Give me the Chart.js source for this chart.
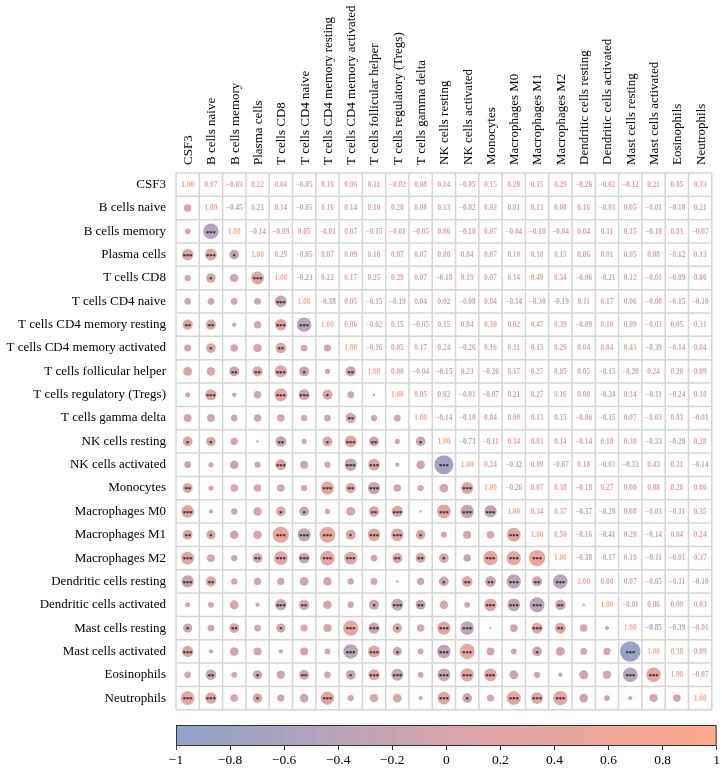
<!DOCTYPE html>
<html><head><meta charset="utf-8">
<script src="https://cdn.jsdelivr.net/npm/chart.js@4.4.0/dist/chart.umd.min.js"></script>
<style>
html,body{margin:0;padding:0;background:#fff;width:722px;height:768px;overflow:hidden;}
#main{position:absolute;left:0;top:0;}
#cbar{position:absolute;left:0;top:716px;}
</style></head><body>
<canvas id="main" width="722" height="720"></canvas>
<canvas id="cbar" width="722" height="52"></canvas>
<script>
// ---- DATA ----
const variables = ["CSF3","B cells naive","B cells memory","Plasma cells","T cells CD8","T cells CD4 naive",
 "T cells CD4 memory resting","T cells CD4 memory activated","T cells follicular helper","T cells regulatory (Tregs)",
 "T cells gamma delta","NK cells resting","NK cells activated","Monocytes","Macrophages M0","Macrophages M1",
 "Macrophages M2","Dendritic cells resting","Dendritic cells activated","Mast cells resting","Mast cells activated",
 "Eosinophils","Neutrophils"];

// upper triangle: row i holds correlations with columns i+1 .. 22
const upperRows = [
 [0.07,-0.03,0.22,0.04,-0.05,0.16,0.06,0.11,-0.02,0.08,0.14,-0.05,0.15,0.28,0.15,0.29,-0.26,-0.02,-0.12,0.21,0.05,0.33],
 [-0.45,0.23,0.14,-0.05,0.16,0.14,0.10,0.20,0.08,0.13,-0.02,0.02,0.01,0.13,0.08,0.16,-0.03,0.05,-0.01,-0.18,0.21],
 [-0.14,-0.09,0.05,-0.01,0.07,-0.15,-0.01,-0.05,0.06,-0.10,0.07,-0.04,-0.10,-0.04,0.04,0.11,0.15,-0.10,0.03,-0.07],
 [0.29,-0.05,0.07,0.09,0.16,0.07,0.07,0.00,0.04,0.07,0.10,0.10,0.15,0.06,0.01,0.05,0.08,-0.12,0.13],
 [-0.23,0.22,0.17,0.25,0.29,0.07,-0.18,0.19,0.07,0.14,0.49,0.34,-0.06,-0.21,0.12,-0.01,-0.09,0.06],
 [-0.38,0.05,-0.15,-0.19,0.04,0.02,-0.08,0.04,-0.14,-0.30,-0.19,0.11,0.17,0.06,-0.08,-0.15,-0.10],
 [0.06,-0.02,0.15,-0.05,0.15,0.04,0.30,0.02,0.47,0.39,-0.09,0.10,0.09,-0.03,0.05,0.31],
 [-0.16,0.05,0.17,0.24,-0.26,0.16,0.11,0.15,0.29,0.04,0.04,0.43,-0.39,-0.14,0.04],
 [0.00,-0.04,-0.15,0.23,-0.26,0.17,0.27,0.05,0.05,-0.15,-0.20,0.24,0.20,0.09],
 [0.05,0.02,-0.01,-0.07,0.21,0.27,0.16,0.00,-0.24,0.14,-0.11,-0.24,0.10],
 [-0.14,-0.10,0.04,0.00,0.13,0.15,-0.06,-0.15,0.07,-0.03,0.03,-0.01],
 [-0.73,-0.11,0.34,0.03,0.14,-0.14,0.10,0.30,-0.33,-0.28,0.28],
 [0.24,-0.32,0.09,-0.07,0.18,-0.03,-0.33,0.43,0.31,-0.14],
 [-0.26,0.07,0.38,-0.18,0.27,0.00,0.08,0.28,0.06],
 [0.34,0.37,-0.37,-0.28,0.08,-0.03,-0.11,0.35],
 [0.50,-0.16,-0.41,0.20,-0.14,0.04,0.24],
 [-0.38,-0.17,0.19,-0.11,-0.01,0.37],
 [0.00,0.07,-0.05,-0.11,-0.10],
 [-0.01,0.06,0.09,0.03],
 [-0.85,-0.39,-0.01],
 [0.38,0.09],
 [-0.07]
];

// significance stars (lower triangle): row i, columns 0 .. i-1, number of stars
const starRows = [
 "",
 "0",
 "03",
 "331",
 "0103",
 "00003",
 "220033",
 "0100200",
 "00223102",
 "030033100",
 "0000000200",
 "11002013201",
 "000030033003",
 "2000003230003",
 "30001100230333",
 "210033313310003",
 "3002333302210333",
 "32000000000122323",
 "000032001320033320",
 "1020100331033003200",
 "30000003310330010003",
 "020102013303330000033",
 "3301003000031033300000"
];

const colorbarTicks = [-1,-0.8,-0.6,-0.4,-0.2,0,0.2,0.4,0.6,0.8,1];

// ---- helpers ----
const N = variables.length;
const corr = [];
for (let i = 0; i < N; i++) { corr.push(new Array(N).fill(0)); corr[i][i] = 1; }
upperRows.forEach((row, i) => row.forEach((v, k) => { const j = i + 1 + k; corr[i][j] = v; corr[j][i] = v; }));

const STOPS = [[-1,[143,163,202]],[0,[214,164,172]],[1,[255,168,140]]];
function rgbFor(v){
  v = Math.max(-1, Math.min(1, v));
  for (let k = 0; k < STOPS.length - 1; k++) {
    const [a, ca] = STOPS[k], [b, cb] = STOPS[k+1];
    if (v >= a && v <= b) {
      const t = (v - a) / (b - a);
      return ca.map((c, m) => Math.round(c + (cb[m] - c) * t));
    }
  }
  return STOPS[STOPS.length-1][1];
}
function colorFor(v){ const c = rgbFor(v); return `rgb(${c[0]},${c[1]},${c[2]})`; }
function fmt2(v){ const s = Math.abs(v).toFixed(2); return (v < 0 ? "\u2212" : "") + s; }

const points = [];
for (let i = 1; i < N; i++) for (let j = 0; j < i; j++) {
  points.push({x: j, y: i, v: corr[i][j], s: +starRows[i][j]});
}

const SERIF = '"Liberation Serif", "Times New Roman", serif';
const PAD = { left: 176, top: 173, right: 3, bottom: 4 };
const CELL = (722 - PAD.left - PAD.right) / N;   // pixel size of one cell

const gridPlugin = {
  id: 'cellGrid',
  beforeDatasetsDraw(chart){
    const {ctx, scales:{x, y}} = chart;
    ctx.save();
    ctx.strokeStyle = '#d4d4d4';
    ctx.lineWidth = 1.5;
    const x0 = x.getPixelForValue(-0.5), x1 = x.getPixelForValue(N - 0.5);
    const y0 = y.getPixelForValue(-0.5), y1 = y.getPixelForValue(N - 0.5);
    for (let k = 0; k <= N; k++) {
      const px = x.getPixelForValue(k - 0.5), py = y.getPixelForValue(k - 0.5);
      ctx.beginPath(); ctx.moveTo(px, y0); ctx.lineTo(px, y1); ctx.stroke();
      ctx.beginPath(); ctx.moveTo(x0, py); ctx.lineTo(x1, py); ctx.stroke();
    }
    ctx.restore();
  }
};

const textPlugin = {
  id: 'cellText',
  afterDatasetsDraw(chart){
    const {ctx, scales:{x, y}} = chart;
    ctx.save();
    ctx.textAlign = 'center';
    // numbers (upper triangle incl. diagonal)
    ctx.font = 'bold 7.3px ' + SERIF;
    ctx.textBaseline = 'middle';
    for (let i = 0; i < N; i++) for (let j = i; j < N; j++) {
      const v = corr[i][j];
      ctx.fillStyle = colorFor(v);
      ctx.fillText(fmt2(v), x.getPixelForValue(j), y.getPixelForValue(i) + 0.5);
    }
    // stars (lower triangle)
    ctx.font = 'bold 6.5px ' + SERIF;
    ctx.textBaseline = 'alphabetic';
    ctx.fillStyle = '#111';
    points.forEach(p => {
      if (p.s > 0) ctx.fillText('*'.repeat(p.s), x.getPixelForValue(p.x), y.getPixelForValue(p.y) + 3.3);
    });
    // row labels
    ctx.font = '13px ' + SERIF;
    ctx.fillStyle = '#000';
    ctx.textAlign = 'right';
    ctx.textBaseline = 'middle';
    const xl = x.getPixelForValue(-0.5) - 10;
    variables.forEach((lab, i) => ctx.fillText(lab, xl, y.getPixelForValue(i)));
    // column labels (rotated)
    const yl = y.getPixelForValue(-0.5) - 8;
    ctx.textAlign = 'left';
    variables.forEach((lab, j) => {
      ctx.save();
      ctx.translate(x.getPixelForValue(j) + 1, yl);
      ctx.rotate(-Math.PI / 2);
      ctx.fillText(lab, 0, 0);
      ctx.restore();
    });
    ctx.restore();
  }
};

new Chart(document.getElementById('main'), {
  type: 'bubble',
  data: { datasets: [{
    data: points,
    backgroundColor: c => colorFor(c.raw.v),
    borderWidth: 0,
    radius: c => CELL * (0.05 + 0.415 * Math.sqrt(Math.abs(c.raw.v)))
  }]},
  options: {
    responsive: false, animation: false, events: [],
    layout: { padding: PAD },
    scales: {
      x: { type: 'linear', min: -0.5, max: N - 0.5, display: false },
      y: { type: 'linear', min: -0.5, max: N - 0.5, reverse: true, display: false }
    },
    plugins: { legend: { display: false }, tooltip: { enabled: false } }
  },
  plugins: [gridPlugin, textPlugin]
});

// ---- colour bar ----
const gradientPlugin = {
  id: 'cbGradient',
  beforeDatasetsDraw(chart){
    const {ctx, chartArea: a, scales: {x}} = chart;
    const g = ctx.createLinearGradient(x.getPixelForValue(-1), 0, x.getPixelForValue(1), 0);
    STOPS.forEach(([v]) => g.addColorStop((v + 1) / 2, colorFor(v)));
    ctx.save();
    ctx.fillStyle = g;
    ctx.fillRect(a.left, a.top, a.right - a.left, a.bottom - a.top);
    ctx.strokeStyle = '#333';
    ctx.lineWidth = 1;
    ctx.strokeRect(a.left + 0.5, a.top + 0.5, a.right - a.left - 1, a.bottom - a.top - 1);
    ctx.restore();
  }
};

new Chart(document.getElementById('cbar'), {
  type: 'scatter',
  data: { datasets: [{ data: [] }] },
  options: {
    responsive: false, animation: false, events: [],
    layout: { padding: { left: 176, right: 3, top: 9, bottom: 0 } },
    scales: {
      x: {
        type: 'linear', min: -1, max: 1, position: 'bottom',
        afterBuildTicks: s => { s.ticks = colorbarTicks.map(v => ({ value: v })); },
        afterFit: s => { s.height = 22; },
        ticks: {
          autoSkip: false, maxRotation: 0, padding: 2, color: '#000',
          font: { family: SERIF, size: 13.5 },
          callback: v => Math.abs(v) < 1e-9 ? '0' : String(Math.round(v * 10) / 10).replace('-', '\u2212')
        },
        grid: { display: true, drawOnChartArea: false, drawTicks: true, tickLength: 4, color: '#333', lineWidth: 1 },
        border: { display: false }
      },
      y: { display: false, min: 0, max: 1 }
    },
    plugins: { legend: { display: false }, tooltip: { enabled: false } }
  },
  plugins: [gradientPlugin]
});
</script>
</body></html>
